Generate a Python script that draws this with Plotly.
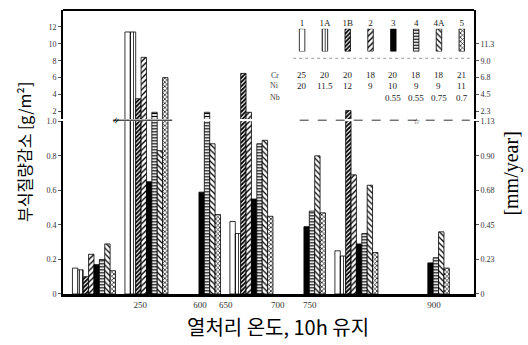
import plotly.graph_objects as go

# ---------------- data ----------------
groups = ["", "250", "600", "650", "700", "750", "900"]
series_names = ["1", "1A", "1B", "2", "3", "4", "4A", "5"]
s1 = [0.15, 11.4, None, 0.42, None, 0.25, None]
s1a = [0.14, 11.4, None, 0.35, None, 0.22, None]
s1b = [0.10, 3.5, None, 6.5, None, 2.1, None]
s2 = [0.23, 8.4, None, 1.9, None, 0.69, None]
s3 = [0.17, 0.65, 0.59, 0.55, 0.39, 0.29, 0.18]
s4 = [0.20, 1.9, 1.9, 0.87, 0.48, 0.35, 0.21]
s4a = [0.29, 0.83, 0.87, 0.89, 0.80, 0.63, 0.36]
s5 = [0.135, 6.0, 0.46, 0.45, 0.47, 0.24, 0.15]
series_values = [s1, s1a, s1b, s2, s3, s4, s4a, s5]

cr = ["25", "20", "20", "18", "20", "18", "18", "21"]
ni = ["20", "11.5", "12", "9", "10", "9", "9", "11"]
nb = ["", "", "", "", "0.55", "0.55", "0.75", "0.7"]
row_labels = ["Cr", "Ni", "Nb"]

left_lower_ticks = [0, 0.2, 0.4, 0.6, 0.8, 1.0]
left_lower_text = ["0", "0.2", "0.4", "0.6", "0.8", "1.0"]
left_upper_ticks = [2, 4, 6, 8, 10, 12]
right_lower_text = ["0", "0.23", "0.45", "0.68", "0.90", "1.13"]
right_upper_ticks = [2, 4, 6, 8, 10]
right_upper_text = ["2.3", "4.5", "6.8", "9.0", "11.3"]
x_tick_labels = ["250", "600", "650", "700", "750", "900"]

# ---------------- layout helpers ----------------
group_x = [0, 1, 2, 3, 4, 5, 6.36]
label_x = [0.88, 2.02, 2.51, 3.50, 4.11, 6.48]

styles = [
    dict(color="white", shape="", size=4, solidity=0.2),
    dict(color="white", shape="|", size=3, solidity=0.25),
    dict(color="white", shape="/", size=3, solidity=0.6),
    dict(color="white", shape="/", size=4, solidity=0.35),
    dict(color="black", shape="", size=4, solidity=0.2),
    dict(color="white", shape="-", size=3, solidity=0.4),
    dict(color="white", shape="\\", size=4, solidity=0.3),
    dict(color="white", shape="x", size=3, solidity=0.4),
]

serif = "Liberation Serif"
cjk = "Noto Sans CJK KR"


def marker_for(st):
    return dict(color=st["color"],
                line=dict(color="black", width=0.8),
                pattern=dict(shape=st["shape"], size=st["size"],
                             solidity=st["solidity"], fgcolor="black",
                             bgcolor=st["color"], fillmode="replace"))


fig = go.Figure()

for name, vals, st in zip(series_names, series_values, styles):
    for ax in ["y", "y2"]:
        fig.add_trace(go.Bar(
            x=group_x, y=vals, name=name, xaxis="x", yaxis=ax,
            showlegend=False, hoverinfo="skip", marker=marker_for(st)))

# dummy traces so the right-hand axes render
fig.add_trace(go.Scatter(x=[None], y=[None], xaxis="x", yaxis="y3",
                         showlegend=False, hoverinfo="skip"))
fig.add_trace(go.Scatter(x=[None], y=[None], xaxis="x", yaxis="y4",
                         showlegend=False, hoverinfo="skip"))

# legend swatches as a small bar subplot (one trace per series)
for name, st in zip(series_names, styles):
    fig.add_trace(go.Bar(
        x=[name], y=[1], xaxis="x3", yaxis="y5",
        width=0.24, offset=-0.12, showlegend=False, hoverinfo="skip",
        marker=marker_for(st)))

tickfont = dict(family=serif, size=9, color="#333")
ytickfont = dict(family=serif, size=8, color="#333")
upper_range = [1.1, 14.0]

fig.update_layout(
    width=528, height=345,
    margin=dict(l=63, r=54, t=6, b=51),
    paper_bgcolor="white", plot_bgcolor="white",
    barmode="group", bargap=0.18, bargroupgap=0,
    xaxis=dict(domain=[0, 1], range=[-0.59, 7.24], anchor="y",
               tickmode="array", tickvals=label_x, ticktext=x_tick_labels,
               showline=True, linewidth=3, linecolor="black",
               ticks="", showgrid=False, zeroline=False, tickfont=tickfont),
    yaxis=dict(domain=[0, 0.608], range=[0, 1.0], anchor="x",
               tickmode="array", tickvals=left_lower_ticks, ticktext=left_lower_text,
               showline=True, linewidth=2, linecolor="black",
               ticks="outside", ticklen=3, tickcolor="#555",
               showgrid=False, zeroline=False, tickfont=ytickfont),
    yaxis2=dict(domain=[0.616, 1], range=upper_range, anchor="x",
                tickmode="array", tickvals=left_upper_ticks,
                showline=True, linewidth=2, linecolor="black",
                ticks="outside", ticklen=3, tickcolor="#555",
                showgrid=False, zeroline=False, tickfont=ytickfont),
    yaxis3=dict(overlaying="y", side="right", range=[0, 1.0], anchor="x",
                tickmode="array", tickvals=left_lower_ticks, ticktext=right_lower_text,
                showline=True, linewidth=2, linecolor="black",
                ticks="outside", ticklen=3, tickcolor="#555",
                showgrid=False, zeroline=False, tickfont=ytickfont),
    yaxis4=dict(overlaying="y2", side="right", range=upper_range, anchor="x",
                tickmode="array", tickvals=right_upper_ticks, ticktext=right_upper_text,
                showline=True, linewidth=2, linecolor="black",
                ticks="outside", ticklen=3, tickcolor="#555",
                showgrid=False, zeroline=False, tickfont=ytickfont),
    xaxis3=dict(domain=[0.554, 0.998], anchor="y5", side="top",
                type="category", showline=False, ticks="", showgrid=False,
                zeroline=False, tickfont=dict(family=serif, size=9, color="#222")),
    yaxis5=dict(domain=[0.854, 0.934], range=[0, 1], anchor="x3",
                visible=False),
)

# top frame line
fig.add_shape(type="line", xref="paper", yref="paper", x0=0, x1=1, y0=1, y1=1,
              line=dict(color="black", width=2))
# axis-break lines
fig.add_shape(type="line", xref="x", yref="paper", x0=0.36, x1=1.49, y0=0.612, y1=0.612,
              line=dict(color="black", width=1))
fig.add_shape(type="line", xref="x", yref="paper", x0=3.92, x1=7.16, y0=0.612, y1=0.612,
              line=dict(color="#333", width=1, dash="dash"))
fig.add_annotation(x=0.4, y=0.612, xref="x", yref="paper", text="≈", showarrow=False,
                   xanchor="center", yanchor="middle",
                   font=dict(size=11, color="black"), textangle=-60)
fig.add_annotation(x=6.15, y=0.612, xref="x", yref="paper", text="☆", showarrow=False,
                   xanchor="center", yanchor="middle",
                   font=dict(size=8, color="black"))
# dotted line under legend swatches
fig.add_shape(type="line", xref="paper", yref="paper", x0=0.56, x1=0.99, y0=0.83, y1=0.83,
              line=dict(color="#999", width=1, dash="dot"))

# composition rows in legend
row_y = [0.771, 0.733, 0.691]
for ry, lab, row in zip(row_y, row_labels, [cr, ni, nb]):
    fig.add_annotation(x=0.515, y=ry, xref="paper", yref="paper", text=lab,
                       showarrow=False, xanchor="center", yanchor="middle",
                       font=dict(family=serif, size=8, color="#444"))
    for i, t in enumerate(row):
        if t:
            fig.add_annotation(x=i, y=ry, xref="x3", yref="paper", text=t,
                               showarrow=False, xanchor="center", yanchor="middle",
                               font=dict(family=serif, size=9, color="#222"))

# axis titles
fig.add_annotation(x=-0.095, y=0.5, xref="paper", yref="paper",
                   text="부식질량감소 [g/m²]", textangle=-90, showarrow=False,
                   xanchor="center", yanchor="middle",
                   font=dict(family=cjk, size=16, color="black"))
fig.add_annotation(x=1.0925, y=0.424, xref="paper", yref="paper",
                   text="[mm/year]", textangle=-90, showarrow=False,
                   xanchor="center", yanchor="middle",
                   font=dict(family=serif, size=20, color="black"))
fig.add_annotation(x=0.523, y=-0.115, xref="paper", yref="paper",
                   text="열처리 온도, 10h 유지", showarrow=False,
                   xanchor="center", yanchor="middle",
                   font=dict(family=cjk, size=20, color="black"))

fig.write_html("out.html", config={"displayModeBar": False},
               post_script="document.body.style.margin='0';")
